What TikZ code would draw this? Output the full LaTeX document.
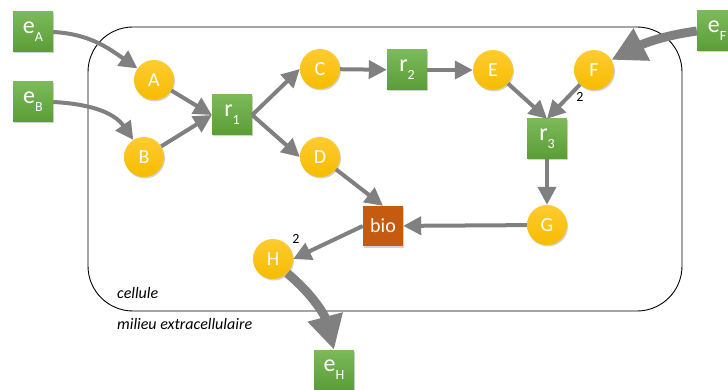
\documentclass[tikz,border=0pt]{standalone}
\usepackage{fontspec}
\setmainfont{Carlito}
\usetikzlibrary{arrows.meta,shadows}
\definecolor{gtop}{HTML}{7CB95A}
\definecolor{gbot}{HTML}{5A9D36}
\definecolor{otop}{HTML}{FFCB30}
\definecolor{obot}{HTML}{F6BC00}
\definecolor{biocol}{HTML}{C55A11}
\definecolor{arr}{HTML}{808080}
\newcommand\mysub[1]{\raisebox{-0.32em}{\fontsize{14}{14}\selectfont #1}}
\begin{document}
\begin{tikzpicture}[x=1pt,y=1pt,
  shad/.style={drop shadow={shadow xshift=1pt,shadow yshift=-1.5pt,opacity=0.35}},
  exch/.style={rectangle, minimum size=40pt, inner sep=0pt, top color=gtop, bottom color=gbot, text=white, font=\fontsize{24}{24}\selectfont, shad},
  met/.style={circle, minimum size=40pt, inner sep=0pt, top color=otop, bottom color=obot, text=white, font=\fontsize{20}{20}\selectfont, shad},
  biobox/.style={rectangle, minimum size=40pt, inner sep=0pt, fill=biocol, text=white, font=\fontsize{20}{20}\selectfont, shad},
  flow/.style={draw=arr, line width=4pt, -{Triangle[length=18pt,width=18pt]}},
  bigflow/.style={draw=arr, line width=9pt, -{Triangle[length=34pt,width=34pt]}},
  stoich/.style={font=\fontsize{14}{14}\selectfont, inner sep=0pt},
  lbl/.style={font=\fontsize{16}{16}\selectfont\itshape, anchor=west, inner sep=0pt}
]
\useasboundingbox (0,0) rectangle (728,-390);
% cell
\draw[line width=0.9pt, rounded corners=45pt] (88,-27) rectangle (682,-311);
\node[lbl] (cell) at (117,-293) {cellule};
\node[lbl] (milieu) at (117,-324) {milieu extracellulaire};
% nodes
\node[exch] (eA) at (33,-32) {e\mysub{A}};
\node[exch] (eB) at (33,-102) {e\mysub{B}};
\node[exch] (eF) at (717,-31) {e\mysub{F}};
\node[exch] (eH) at (334,-370) {e\mysub{H}};
\node[met] (A) at (154,-80) {A};
\node[met] (B) at (144,-157) {B};
\node[met] (C) at (320,-69) {C};
\node[met] (D) at (320,-157) {D};
\node[met] (E) at (493,-70) {E};
\node[met] (F) at (594,-70) {F};
\node[met] (G) at (547,-225) {G};
\node[met] (H) at (273,-259) {H};
\node[exch] (r1) at (232,-115) {r\mysub{1}};
\node[exch] (r2) at (407,-70) {r\mysub{2}};
\node[exch] (r3) at (547,-139) {r\mysub{3}};
\node[biobox] (bio) at (383,-226) {bio};
\node[stoich] (s1) at (580,-97) {2};
\node[stoich] (s2) at (296,-239) {2};
% arrows
\draw[flow] (eA.east) to[out=-3,in=145] (A.145);
\draw[flow] (eB.east) to[out=-3,in=125] (B.122);
\draw[flow] (A) -- (r1.west);
\draw[flow] (B) -- (r1.west);
\draw[flow] (r1.east) -- (C.west);
\draw[flow] (r1.east) -- (D.west);
\draw[flow] (C) -- (r2);
\draw[flow] (r2) -- (E);
\draw[flow] (E) -- (r3.north);
\draw[flow] (F) -- (r3.north);
\draw[flow] (r3) -- (G);
\draw[flow] (G) -- (bio);
\draw[flow] (D) -- (bio.north);
\draw[flow] (bio.west) -- (H.east);
\draw[bigflow] (eF.west) to[out=188,in=27] (F.30);
\draw[bigflow] (H.-45) to[out=-40,in=105] (eH.north);
\end{tikzpicture}
\end{document}
